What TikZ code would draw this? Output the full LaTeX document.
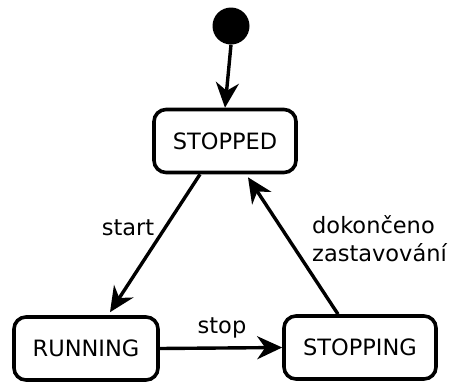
\documentclass[tikz,border=0pt]{standalone}
\usepackage{fontspec}
\setmainfont{DejaVu Sans}
\usetikzlibrary{arrows.meta}
\begin{document}
\begin{tikzpicture}[x=1pt,y=-1pt,
  state/.style={draw, line width=3.6pt, rounded corners=12pt, minimum height=63pt,
    inner sep=0pt, font=\fontsize{22.5}{27}\selectfont},
  lbl/.style={font=\fontsize{22.5}{28}\selectfont, inner sep=0pt},
  trans/.style={line width=3.4pt, -{Stealth[length=25pt, width=23pt, inset=8pt]}}]
  \useasboundingbox (0,0) rectangle (453,381);
  % initial pseudo-state
  \node[circle, fill=black, minimum size=37pt, inner sep=0pt] (init) at (231,26) {};
  % states
  \node[state, minimum width=142pt] (stopped) at (225,141) {STOPPED};
  \node[state, minimum width=144pt] (running) at (86,348.5) {RUNNING};
  \node[state, minimum width=152pt] (stopping) at (360,347.5) {STOPPING};
  % transitions
  \draw[trans] (init.south) -- (stopped.north);
  \draw[trans] ([xshift=-25pt]stopped.south) -- ([xshift=24pt,yshift=3pt]running.north);
  \draw[trans] (running.east) -- (stopping.west);
  \draw[trans] ([xshift=-22pt]stopping.north) -- ([xshift=23pt,yshift=-3pt]stopped.south);
  % labels
  \node[lbl] (lstart) at (128,228) {start};
  \node[lbl] (lstop) at (222,328) {stop};
  \node[lbl, anchor=west, align=left] (ldone) at (312,239) {dokončeno\\zastavování};
\end{tikzpicture}
\end{document}
